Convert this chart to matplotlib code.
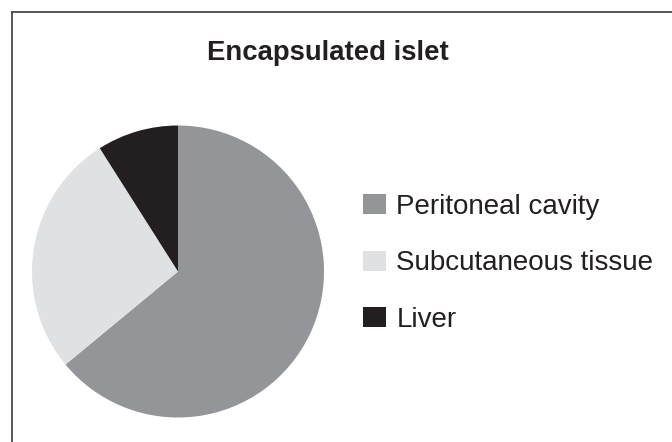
import matplotlib.pyplot as plt
from matplotlib.lines import Line2D

plt.rcParams['font.family'] = ['Liberation Sans', 'DejaVu Sans']

# data
labels = ['Peritoneal cavity', 'Subcutaneous tissue', 'Liver']
shares = [64, 27, 9]
colors = ['#939598', '#e0e1e3', '#231f20']

W, H = 672, 442
fig = plt.figure(figsize=(W / 100, H / 100), dpi=100)

# frame lines (top and left only visible in the crop)
fig.add_artist(Line2D([11.5 / W, 11.5 / W], [0, 1 - 11.5 / H], transform=fig.transFigure,
                      color='#4a4a4a', lw=1.3))
fig.add_artist(Line2D([11.5 / W, 1], [1 - 11.5 / H, 1 - 11.5 / H], transform=fig.transFigure,
                      color='#4a4a4a', lw=1.3))

# pie: centre (178, 271.5), radius 146 px
cx, cy, r = 178, 271.5, 146
ax = fig.add_axes([(cx - r) / W, (H - cy - r) / H, 2 * r / W, 2 * r / H])
wedges, _ = ax.pie(shares, colors=colors, startangle=90, counterclock=False,
                   radius=1, wedgeprops=dict(linewidth=0))
ax.set_xlim(-1, 1)
ax.set_ylim(-1, 1)
ax.set_aspect('equal')
ax.axis('off')

fig.text(327.5 / W, 1 - 53 / H, 'Encapsulated islet', ha='center', va='center',
         fontsize=19.8, fontweight='bold', color='#231f20')

fs = 20
leg = fig.legend(wedges, labels, loc='center left',
                 bbox_to_anchor=(362.7 / W, 1 - 263.5 / H),
                 frameon=False, fontsize=fs, handlelength=0.83, handleheight=0.72,
                 handletextpad=0.38, labelspacing=1.1, borderpad=0, borderaxespad=0)
for t in leg.get_texts():
    t.set_color('#231f20')

fig.savefig('out.png', dpi=100)
